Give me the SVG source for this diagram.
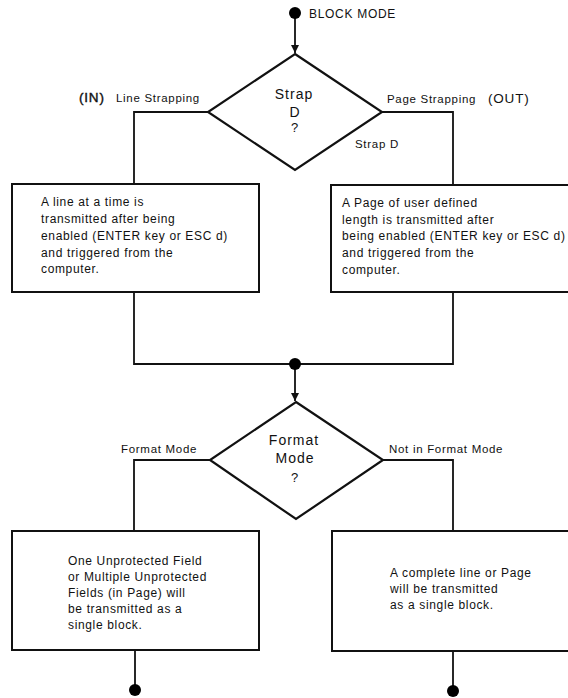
<svg xmlns="http://www.w3.org/2000/svg" width="568" height="698" viewBox="0 0 568 698">
<defs>
<style>
text{font-family:"Liberation Sans",Arial,sans-serif;fill:#111;}
.t{font-size:12px;letter-spacing:0.65px;}
.lbl{font-size:11.5px;letter-spacing:0.7px;}
.big{font-size:13.5px;letter-spacing:0.8px;}
.dt{font-size:14px;letter-spacing:1px;text-anchor:middle;}
.box{fill:#fff;stroke:#111;stroke-width:2;}
.dia{fill:#fff;stroke:#111;stroke-width:2.2;}
.ln{fill:none;stroke:#111;stroke-width:1.8;}
.dot{fill:#000;}
</style>
<marker id="ah" markerWidth="8" markerHeight="10" refX="8" refY="5" orient="auto" markerUnits="userSpaceOnUse">
<path d="M0,1 L8,5 L0,9 Z" fill="#111"/>
</marker>
</defs>
<g id="connectors">
<line class="ln" x1="295" y1="13" x2="295" y2="53" marker-end="url(#ah)"/>
<polyline class="ln" points="208,112 134,112 134,184"/>
<polyline class="ln" points="382,112 453,112 453,185"/>
<polyline class="ln" points="134,292 134,364 453,364 453,292"/>
<line class="ln" x1="295" y1="364" x2="295" y2="401" marker-end="url(#ah)"/>
<polyline class="ln" points="210,460 134,460 134,531"/>
<polyline class="ln" points="383,460 453,460 453,531"/>
<line class="ln" x1="135" y1="650" x2="135" y2="690"/>
<line class="ln" x1="453" y1="651" x2="453" y2="691"/>
<text class="big" x="79" y="102" style="stroke:#111;stroke-width:0.4px">(IN)</text>
<text class="lbl" x="116" y="102">Line Strapping</text>
<text class="lbl" x="387" y="103">Page Strapping</text>
<text class="big" x="488" y="103">(OUT)</text>
<text class="lbl" x="355" y="148">Strap D</text>
<text class="lbl" x="121" y="453">Format Mode</text>
<text class="lbl" x="389" y="453">Not in Format Mode</text>
</g>
<g id="start">
<circle class="dot" cx="295" cy="13" r="6"/>
<text class="lbl" x="309" y="18" style="font-size:12px">BLOCK MODE</text>
</g>
<g id="strapD">
<polygon class="dia" points="295,54 382,112 295,170 208,112"/>
<text class="dt" x="294" y="99">Strap</text>
<text class="dt" x="295" y="117">D</text>
<text class="dt" x="295" y="132" style="font-size:13px">?</text>
</g>
<g id="lineBox">
<rect class="box" x="12" y="184" width="247" height="108"/>
<text class="t" x="41" y="206">A line at a time is</text>
<text class="t" x="41" y="223">transmitted after being</text>
<text class="t" x="41" y="240">enabled (ENTER key or ESC d)</text>
<text class="t" x="41" y="257">and triggered from the</text>
<text class="t" x="41" y="273">computer.</text>
</g>
<g id="pageBox">
<rect class="box" x="331" y="185" width="245" height="107"/>
<text class="t" x="342" y="207">A Page of user defined</text>
<text class="t" x="342" y="224">length is transmitted after</text>
<text class="t" x="342" y="240">being enabled (ENTER key or ESC d)</text>
<text class="t" x="342" y="257">and triggered from the</text>
<text class="t" x="342" y="274">computer.</text>
</g>
<g id="join">
<circle class="dot" cx="295" cy="364" r="6"/>
</g>
<g id="formatMode">
<polygon class="dia" points="296,402 383,460 296,519 210,460"/>
<text class="dt" x="294" y="445">Format</text>
<text class="dt" x="295" y="463">Mode</text>
<text class="dt" x="295" y="482" style="font-size:13px">?</text>
</g>
<g id="fieldBox">
<rect class="box" x="12" y="531" width="247" height="119"/>
<text class="t" x="68" y="565">One Unprotected Field</text>
<text class="t" x="68" y="581">or Multiple Unprotected</text>
<text class="t" x="68" y="597">Fields (in Page) will</text>
<text class="t" x="68" y="613">be transmitted as a</text>
<text class="t" x="68" y="629">single block.</text>
</g>
<g id="blockBox">
<rect class="box" x="332" y="531" width="244" height="120"/>
<text class="t" x="390" y="577">A complete line or Page</text>
<text class="t" x="390" y="593">will be transmitted</text>
<text class="t" x="390" y="609">as a single block.</text>
</g>
<g id="endLeft">
<circle class="dot" cx="135" cy="690" r="6"/>
</g>
<g id="endRight">
<circle class="dot" cx="453" cy="691" r="6"/>
</g>
</svg>
